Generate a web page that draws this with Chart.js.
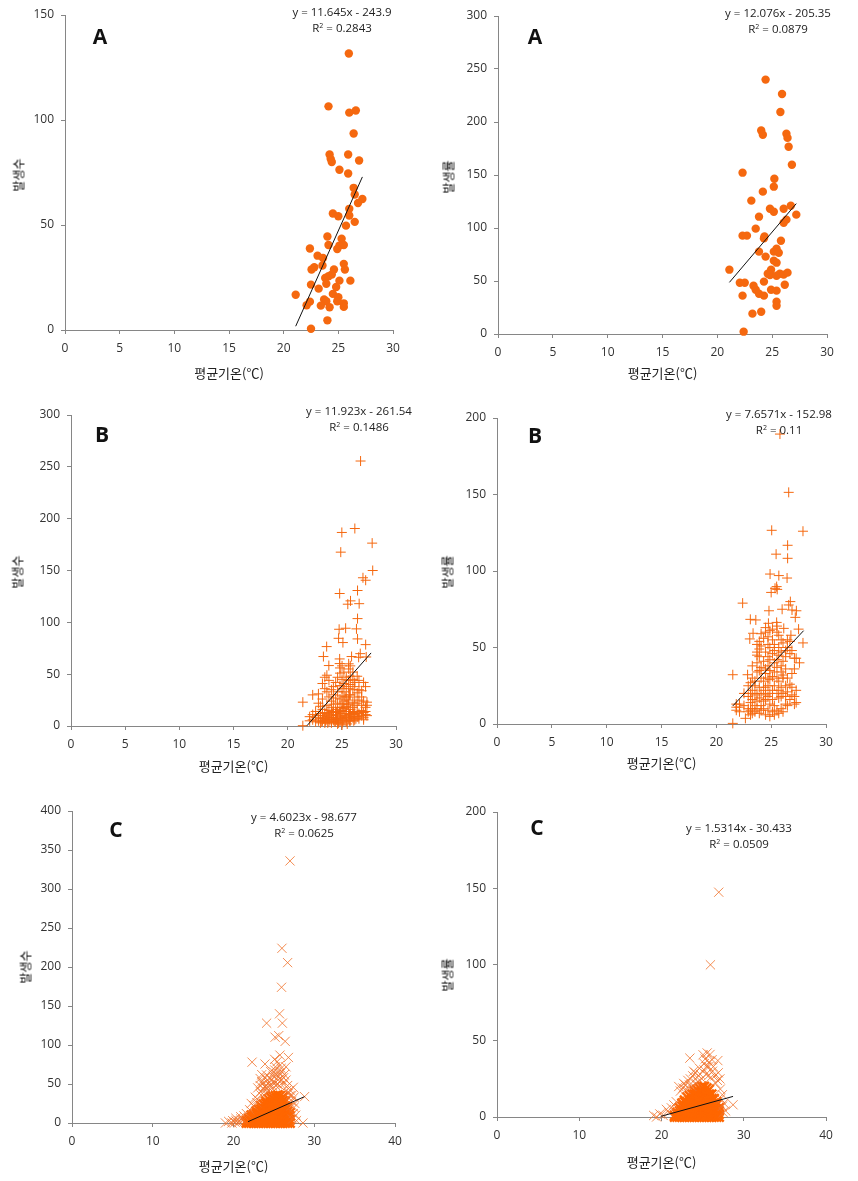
<!DOCTYPE html>
<html><head><meta charset="utf-8">
<script src="https://cdn.jsdelivr.net/npm/chart.js@4"></script>
<style>
html,body{margin:0;padding:0;background:#fff;width:858px;height:1181px;overflow:hidden}
canvas{position:absolute}
.note{position:absolute;font:11.5px "Open Sans","Noto Sans",sans-serif;color:#222;transform:translate(-50%,-50%);white-space:nowrap;background:transparent}
.note sup{font-size:7px;line-height:0;vertical-align:4px}
.tag{position:absolute;font:bold 21px "Open Sans",sans-serif;color:#111;transform:translate(-50%,-50%)}
.ytitle{position:absolute;font:12px "Noto Sans CJK KR",sans-serif;color:#000;transform:translate(-50%,-50%) rotate(-90deg);white-space:nowrap}
</style></head><body>
<script>
// ---------- Panel A, left ----------
const aLeftX=[25.96,24.1,26,26.6,26.4,24.2,25.9,24.3,24.4,26.9,25.1,25.9,26.4,26.5,27.2,26.8,26,24.5,25,26,26.5,25.7,24,25.3,24.1,25.5,25.1,24.9,22.4,23.1,23.6,23.55,25.5,22.8,22.55,25.6,24.6,24.4,23.8,24.1,25.1,26.1,23.9,22.5,24.8,23.2,24.5,21.1,25,23.7,22.4,23.9,24.9,25.5,22.1,23.4,24.2,25.5,24,22.5];
const aLeftY=[131.7,106.5,103.5,104.5,93.6,83.6,83.6,81.5,80,80.7,76.3,74.5,67.7,64.5,62.4,60.5,57.7,55.5,54.2,54.5,51.5,49.7,44.5,43.5,40.5,40.5,40.2,38.6,38.8,35.4,34.3,30.7,31.5,29.9,28.8,28.8,28.8,26.4,24.8,25.6,23.5,23.5,22,21.6,20.5,19.7,17.2,16.8,15.6,14.5,13.5,13.7,13.7,12.7,11.8,11.6,10.8,11,4.6,0.6];
const aLeftLineX=[21.1,27.2];
const aLeftLineY=[1.8,72.9];
// ---------- Panel A, right ----------
const aRightX=[24.4,25.9,25.75,24,24.15,26.3,26.4,26.5,26.8,22.3,25.2,25.15,24.15,23.1,26.7,24.8,26.05,25.15,27.2,23.8,26.3,26.05,23.5,22.3,22.7,24.3,24.25,25.8,25.4,25.15,25.6,23.8,24.4,25.15,25.4,21.1,24.9,24.6,24.8,25.4,25.7,26.05,26.4,24.25,22.05,22.5,26.15,23.3,23.5,24.9,25.4,23.8,24.25,22.3,25.4,25.4,24,23.2,22.4];
const aRightY=[240,226.4,209.4,192,188,189,185,176.7,159.7,152.2,146.5,139,134.3,125.8,121,118.2,118.2,115.4,112.6,110.7,107.9,105,99.4,92.8,92.8,92.1,90.2,88,80.5,77.7,76.7,77.7,73,69.2,67.3,60.7,60.7,56.9,55.7,55,56.9,56,57.9,49.4,48.4,48.4,46.5,45.6,41.8,41.8,40.9,38,36.2,36.2,30.5,26.7,21,19.2,2.2];
const aRightLineX=[21.1,27.2];
const aRightLineY=[48.7,123];
// ---------- Panel B, left ----------
const bLeftX=[26.73,26.2,25,27.8,24.9,27.85,26.95,27.2,26.45,24.8,25.8,25.55,26.6,26.45,24.75,25.35,26.35,26.45,24.7,25.1,27.2,23.6,23.3,24.8,26.7,25.9,26.55,27.25,23.8,24.8,21.4,21.4,23.1,23.3,23.5,23.7,23.9,24.1,24.3,24.5,24.7,24.9,25.1,25.3,25.5,25.7,25.9,26.1,26.3,26.5,24.1,24.5,24.9,25.3,25.7,26.1,25.1,25.5,25.3,25.7];
const bLeftY=[255.6,190.5,186.7,176.4,167.7,150,143,140.6,130.7,127.8,120.7,117.5,118,103.6,93.3,94.3,93.7,84,84.6,80.5,78.5,76.6,67,64.7,69.8,67,66.3,66.6,58.3,60.2,0.3,23,4,7,5,3,6,8,4,6,3,7,5,8,2,5,9,5,7,9,14,13,12,14,11,12,18,22,28,30];
const bLeftColX=[22.03,22.31,22.58,22.84,23.02,23.21,23.43,23.62,23.81,24.04,24.22,24.43,24.61,24.83,25.02,25.19,25.41,25.63,25.78,26.02,26.19,26.42,26.58,26.83,27.01,27.19,27.32];
const bLeftColY=[[5,9],[6,30,11],[4,8,14],[31,22,10,5],[7,12,19,3],[10,26,41,5,16],[36,8,3,13,47],[6,12,20,33,49,9],[7,15,28,44,4,11],[10,5,24,35,18,3],[8,13,30,21,6,38],[4,11,27,16,42,8],[7,33,14,22,2,47,10],[5,18,26,39,12,56,51],[3,9,15,29,36,45,58,1,21],[6,12,24,33,41,52,17],[4,10,19,28,38,47,8],[7,14,25,36,55,60,44,21],[5,11,30,40,48,58,16],[8,13,23,35,52,45,18],[6,20,28,42,38,11],[9,14,32,22,48],[12,7,25,35,44],[10,15,28,20,34],[8,13,24,42,6],[11,18,14,38],[23,10,20]];
const bLeftLineX=[21.8,27.7];
const bLeftLineY=[0.5,70.5];
// ---------- Panel B, right ----------
const bRightX=[25.8,26.6,25.05,27.9,26.5,25.45,26.5,24.9,25.7,26.45,25.5,25.35,25.55,25,26.75,22.4,26.6,24.8,26,26.9,27.3,27.2,23.1,23.6,24.75,25.5,26.15,27.5,23.35,23.05,26.8,27.9,21.5,22.85,21.5,22.65];
const bRightY=[189.5,151.4,126.6,126,116.8,111,108.3,98,97,95.4,89.8,88.7,88,86,80,79,77.8,74,75,74.5,74,69.7,68.4,68,65.8,66.4,62.5,62,59.3,55.6,58,53,32.2,32.2,0.4,3.7];
const bRightColX=[21.82,22.11,22.52,22.91,23.12,23.28,23.52,23.71,23.92,24.08,24.31,24.49,24.71,24.88,25.12,25.29,25.53,25.69,25.91,26.08,26.32,26.48,26.71,26.89,27.12,27.28,27.58];
const bRightColY=[[9,11,13],[8,11,13],[12,20],[10,18,25,8],[27,9,14,20,6],[10,22,16,30,7,38],[12,19,8,25,28],[15,20,10,34,40,45,47,52],[7,17,24,35,44,49,54],[12,20,30,37,9,51,59],[15,22,28,10,41,56],[6,16,19,24,33,36,47,60,63],[9,18,25,30,38,44,52,57],[5,13,20,29,35,42,50,61],[8,16,22,31,46,55,62],[6,12,25,34,40,52,48],[9,20,30,37,42,60,64],[7,17,22,28,45,50,58],[10,18,24,34,38,47,55],[8,20,32,41,30,53],[13,18,25,36,44,48],[12,21,30,50,55],[16,26,46,54],[19,24,33,48],[13,18,36,43],[14,43,22],[40]];
const bRightLineX=[21.5,27.96];
const bRightLineY=[11.8,61];
// ---------- Panel C, left ----------
const cLeftX=[27,26,26.7,25.95,25.7,26.05,24.1,25.6,25.15,26.4,22.3,25.75,26.8,25.1,25.4,26.5,23.9,25.75,25.1,23.3,24.1,23.5,24.7,25.75,24.3,25.25,27.4,23.35,28.8,28.6,19,19.4,19.8,19.9,20.2,20.3,20.6,20.7,20.9,21.2,24,24.5,25,25.4,25.9,26.2,26.6,27,27.2,27.5,27.7,27.3,23,22.7,22.2,23.7,24.3,25.6,24.9,26.3,23.9,23,23.3,23.6,23.9,24.2,24.5,24.8,25,25.3,25.5,25.7,26,26.2,26.5,24.6,25.2,25.9,26.7,27,23.5,24.3,24,23.4,22.9,22.5,22,21.6,21.3,20.9,20.3,27.2,27.4,27.6,27.8,27.5,26.8,27.1];
const cLeftY=[336,224,205.6,174,140,128,128,112,110,104.7,78,87,84,81.6,78.6,72,75.6,74,68,57,61.5,53,55,63.7,51,47.4,45.7,40,33.8,0,0,2,0,3,1,6,0,3,8,4,45,48,52,50,55,50,42,35,28,20,10,5,30,33,25,44,40,60,60,62,58,45,48,50,47,55,58,48,65,62,55,48,66,58,55,66,72,70,48,42,62,46,38,36,26,22,17,12,9,5,3,35,12,25,3,33,38,22];
const cLeftColX=[21.6,21.9,22.2,22.5,22.8,23.1,23.4,23.7,24,24.3,24.6,24.9,25.2,25.5,25.8,26.1,26.4,26.7,27];
const cLeftColY=[[0,3],[0,3,6],[0,3,7,10],[0,4,8,11],[0,4,8,12,15],[0,4,9,13,17],[0,5,9,14,18,22],[0,5,10,14,19,24],[0,5,10,15,20,25,28],[0,5,11,16,21,26,31],[0,5,11,16,22,27,33],[0,6,11,17,23,28,34],[0,6,12,18,23,29,35],[0,6,12,18,24,30,36],[0,6,12,18,24,30,35],[0,6,12,18,24,29,33],[0,5,11,17,22,28],[0,5,10,15,20],[0,4,9,13]];
const cLeftLineX=[21.8,28.8];
const cLeftLineY=[1.7,33.8];
// ---------- Panel C, right ----------
const cRightX=[26.96,25.95,23.45,25.55,26.85,25.05,26.15,25.15,23.9,25.75,22.7,22.1,27.15,27.4,28.7,19.05,19.4,19.8,20.2,20.6,20.9,21.2,21.5,21.8,23,23.4,24.3,24.7,25.5,25.8,26.2,26.5,26.8,27.6,27.8,22.3,22.6,22.9,23.2,23.5,23.8,24.1,24.4,24.6,24.9,25.2,25.4,25.7,26,26.3,26.6,26.9,27.2,27.4,27.5,24.2,23.7,27.1,25.9,25.3];
const cRightY=[147.4,99.8,38.6,42,37,40.8,37.6,31,30,33,22,20,18.3,14.6,8,1,0,2,1,5,3,6,8,10,18,21,26,28,33,36,30,27,24,9,4,17,19,21,24,25,27,29,23,32,25,35,28,27,26,33,22,29,12,7,3,22,20,25,41,38];
const cRightColX=[21.6,21.9,22.2,22.5,22.8,23.1,23.4,23.7,24,24.3,24.6,24.9,25.2,25.5,25.8,26.1,26.4,26.7,27];
const cRightColY=[[0,1],[0,2,3],[0,2,4,6],[0,2,4,7,9],[0,2,5,7,10,11],[0,3,5,8,10,13],[0,3,5,8,11,14],[0,3,6,9,12,15],[0,3,6,9,12,15,17],[0,3,6,9,12,15,18],[0,3,6,10,13,16,19],[0,3,7,10,13,17,20],[0,3,7,10,14,17,20],[0,3,7,10,13,16,19],[0,3,6,9,12,15,18],[0,3,6,9,12,15],[0,3,6,9,12],[0,3,5,8,10],[0,2,4,6]];
const cRightLineX=[19.9,28.7];
const cRightLineY=[0.4,13.5];
// ---------- Tick values ----------
const xTicks30=[0,5,10,15,20,25,30];
const xTicks40=[0,10,20,30,40];
const yTicksA=[0,50,100,150];
const yTicks300=[0,50,100,150,200,250,300];
const yTicks200=[0,50,100,150,200];
const yTicks400=[0,50,100,150,200,250,300,350,400];

const ORANGE='#F5680F';
const zip=(xs,ys)=>xs.map((x,i)=>({x,y:ys[i]}));
const zipCols=(xs,cols)=>xs.flatMap((x,i)=>cols[i].map(y=>({x,y})));

const panels=[
 {x0:65,xR:393,yT:15,y0:330,ytx:18,ytc:175,xty:373,xt:xTicks30,yt:yTicksA,yTitle:'발생수',pts:zip(aLeftX,aLeftY),line:zip(aLeftLineX,aLeftLineY),mark:'circle',
  eq:['y = 11.645x - 243.9','0.2843',342,11,27],tag:['A',100,36]},
 {x0:498,xR:827,yT:16,y0:334,ytx:448,ytc:177,xty:373,xt:xTicks30,yt:yTicks300,yTitle:'발생률',pts:zip(aRightX,aRightY),line:zip(aRightLineX,aRightLineY),mark:'circle',
  eq:['y = 12.076x - 205.35','0.0879',778,12,28],tag:['A',535,36]},
 {x0:71,xR:396,yT:415,y0:726,ytx:17,ytc:572,xty:766,xt:xTicks30,yt:yTicks300,yTitle:'발생수',pts:zip(bLeftX,bLeftY).concat(zipCols(bLeftColX,bLeftColY)),line:zip(bLeftLineX,bLeftLineY),mark:'cross',
  eq:['y = 11.923x - 261.54','0.1486',359,410,426],tag:['B',102,434]},
 {x0:497,xR:826,yT:418,y0:724,ytx:447,ytc:572,xty:763,xt:xTicks30,yt:yTicks200,yTitle:'발생률',pts:zip(bRightX,bRightY).concat(zipCols(bRightColX,bRightColY)),line:zip(bRightLineX,bRightLineY),mark:'cross',
  eq:['y = 7.6571x - 152.98','0.11',779,413,429],tag:['B',535,435]},
 {x0:72,xR:395,yT:811,y0:1123,ytx:25,ytc:967,xty:1166,xt:xTicks40,yt:yTicks400,yTitle:'발생수',pts:zip(cLeftX,cLeftY),dense:zipCols(cLeftColX,cLeftColY),line:zip(cLeftLineX,cLeftLineY),mark:'crossRot',
  eq:['y = 4.6023x - 98.677','0.0625',304,816,832],tag:['C',116,829]},
 {x0:497,xR:826,yT:812,y0:1117,ytx:447,ytc:975,xty:1162,xt:xTicks40,yt:yTicks200,yTitle:'발생률',pts:zip(cRightX,cRightY),dense:zipCols(cRightColX,cRightColY),line:zip(cRightLineX,cRightLineY),mark:'crossRot',
  eq:['y = 1.5314x - 30.433','0.0509',739,827,843],tag:['C',537,827]}
];

const TICK_FONT={family:'"Open Sans","Noto Sans",sans-serif',size:12};
const KO='"Noto Sans CJK KR",sans-serif';
const noOverhang=s=>{s.paddingTop=0;s.paddingBottom=0;s.paddingLeft=0;s.paddingRight=0};

panels.forEach(p=>{
  const padTop=10,padRight=22;
  const left=p.ytx-7, top=p.yT-padTop;
  const yW=p.x0-left, xH=p.xty-p.y0+8;
  const c=document.createElement('canvas');
  const W=yW+(p.xR-p.x0)+padRight, H=padTop+(p.y0-p.yT)+xH;
  c.style.left=left+'px'; c.style.top=top+'px'; c.style.width=W+'px'; c.style.height=H+'px';
  c.width=W;c.height=H;
  document.body.appendChild(c);
  const ds=[{type:'scatter',data:p.line,showLine:true,borderColor:'#111',borderWidth:1,pointRadius:0,clip:false,order:0}];
  const sizes={circle:4.2,cross:5,crossRot:6.5};
  const col=p.mark==='crossRot'?'rgba(240,112,40,.8)':ORANGE;
  ds.push({data:p.pts,showLine:false,pointStyle:p.mark,pointRadius:sizes[p.mark],pointBackgroundColor:ORANGE,pointBorderColor:col,pointBorderWidth:p.mark==='circle'?0:1,clip:false,order:1});
  if(p.dense) ds.push({data:p.dense,showLine:false,pointStyle:p.mark,pointRadius:sizes[p.mark],pointBorderColor:'#FF6600',pointBorderWidth:2.4,clip:false,order:2});
  const max=p.yt[p.yt.length-1], xmax=p.xt[p.xt.length-1];
  new Chart(c,{type:'scatter',data:{datasets:ds},options:{
    responsive:false,animation:false,devicePixelRatio:1,
    layout:{padding:{top:padTop,right:padRight,left:0,bottom:0}},
    plugins:{legend:{display:false},tooltip:{enabled:false}},
    scales:{
      x:{type:'linear',min:0,max:xmax,afterBuildTicks:s=>{s.ticks=p.xt.map(v=>({value:v}))},
        grid:{drawOnChartArea:false,drawTicks:true,tickLength:4,color:'#868686'},border:{color:'#868686'},
        ticks:{font:TICK_FONT,color:'#333',padding:7,maxRotation:0,autoSkip:false},
        title:{display:true,text:'평균기온(℃)',font:{family:KO,size:13},color:'#222',padding:0},
        afterFit:s=>{s.height=xH;noOverhang(s)}},
      y:{type:'linear',min:0,max,afterBuildTicks:s=>{s.ticks=p.yt.map(v=>({value:v}))},
        grid:{drawOnChartArea:false,drawTicks:true,tickLength:4,color:'#868686'},border:{color:'#868686'},
        ticks:{font:TICK_FONT,color:'#333',padding:7,autoSkip:false},
        afterFit:s=>{s.width=yW;noOverhang(s)}}
    }}});
  const y=document.createElement('div');y.className='ytitle';y.textContent=p.yTitle;y.style.left=p.ytx+'px';y.style.top=p.ytc+'px';document.body.appendChild(y);
  const e=document.createElement('div');e.className='note';e.textContent=p.eq[0];e.style.left=p.eq[2]+'px';e.style.top=p.eq[3]+'px';document.body.appendChild(e);
  const r=document.createElement('div');r.className='note';r.innerHTML='R<sup>2</sup> = '+p.eq[1];r.style.left=p.eq[2]+'px';r.style.top=p.eq[4]+'px';document.body.appendChild(r);
  const t=document.createElement('div');t.className='tag';t.textContent=p.tag[0];t.style.left=p.tag[1]+'px';t.style.top=p.tag[2]+'px';document.body.appendChild(t);
});
</script>
</body></html>
